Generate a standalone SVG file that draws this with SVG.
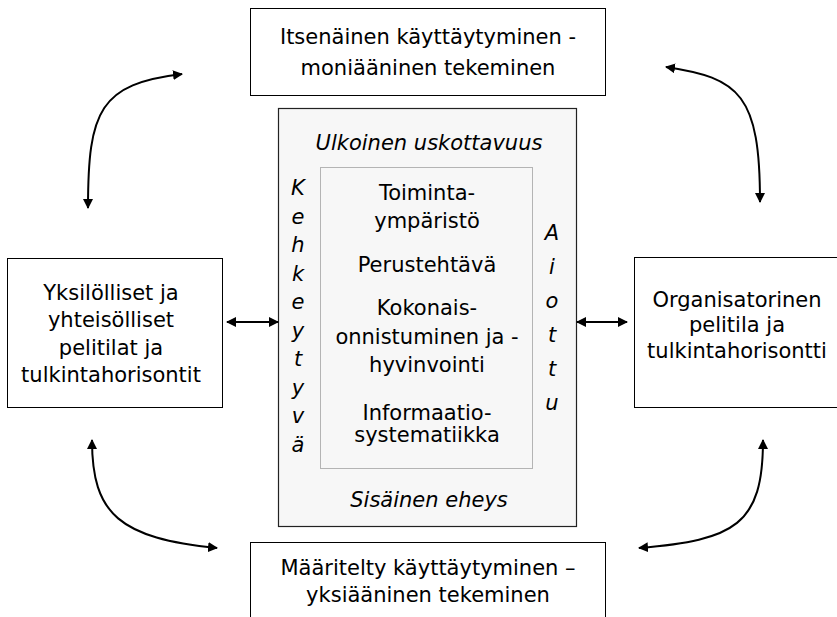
<svg xmlns="http://www.w3.org/2000/svg" width="837" height="617" viewBox="0 0 837 617">
  <defs>
    <marker id="arr" viewBox="0 0 10 10" refX="9" refY="5" markerWidth="5" markerHeight="5" orient="auto-start-reverse" markerUnits="strokeWidth">
      <path d="M0,0 L10,5 L0,10 z" fill="#000"/>
    </marker>
    <style>
      .box { fill: #fff; stroke: #000; stroke-width: 1; }
      .outer { fill: #f7f7f7; stroke: #222; stroke-width: 1.2; }
      .inner { fill: #f7f7f7; stroke: #b4b4b4; stroke-width: 1; }
      .t { font-family: "DejaVu Sans", Verdana, sans-serif; font-size: 21px; fill: #000; text-anchor: middle; }
      .i { font-family: "DejaVu Sans", Verdana, sans-serif; font-size: 21px; font-style: italic; fill: #000; text-anchor: middle; }
      .c { fill: none; stroke: #000; stroke-width: 2; marker-start: url(#arr); marker-end: url(#arr); }
    </style>
  </defs>

  <rect width="837" height="617" fill="#fff"/>

  <!-- top: autonomous behaviour -->
  <g id="top">
    <rect class="box" x="250.5" y="8.5" width="355" height="87"/>
    <text class="t" x="428" y="44">Itsenäinen käyttäytyminen -</text>
    <text class="t" x="428" y="75">moniääninen tekeminen</text>
  </g>

  <!-- centre frame -->
  <g id="center">
    <rect class="outer" x="278.5" y="108.5" width="298" height="418"/>
    <rect class="inner" x="320.5" y="167.5" width="212" height="301"/>
    <text class="i" x="429" y="150">Ulkoinen uskottavuus</text>
    <text class="i" x="429" y="507">Sisäinen eheys</text>
    <g class="i">
      <text x="298" y="195">K</text>
      <text x="298" y="223.5">e</text>
      <text x="298" y="252">h</text>
      <text x="298" y="280.5">k</text>
      <text x="298" y="309">e</text>
      <text x="298" y="337.5">y</text>
      <text x="298" y="366">t</text>
      <text x="298" y="394.5">y</text>
      <text x="298" y="423">v</text>
      <text x="298" y="451.5">ä</text>
    </g>
    <g class="i">
      <text x="552" y="240">A</text>
      <text x="552" y="274">i</text>
      <text x="552" y="308">o</text>
      <text x="552" y="342">t</text>
      <text x="552" y="376">t</text>
      <text x="552" y="410">u</text>
    </g>
    <text class="t" x="427" y="200">Toiminta-</text>
    <text class="t" x="427" y="228">ympäristö</text>
    <text class="t" x="427" y="272">Perustehtävä</text>
    <text class="t" x="427" y="315">Kokonais-</text>
    <text class="t" x="427" y="344">onnistuminen ja -</text>
    <text class="t" x="427" y="372">hyvinvointi</text>
    <text class="t" x="427" y="420">Informaatio-</text>
    <text class="t" x="427" y="442">systematiikka</text>
  </g>

  <!-- left: individual and communal -->
  <g id="left">
    <rect class="box" x="7.5" y="258.5" width="215" height="149"/>
    <text class="t" x="111" y="300">Yksilölliset ja</text>
    <text class="t" x="111" y="327">yhteisölliset</text>
    <text class="t" x="111" y="355">pelitilat ja</text>
    <text class="t" x="111" y="382">tulkintahorisontit</text>
  </g>

  <!-- right: organisational -->
  <g id="right">
    <rect class="box" x="634.5" y="257.5" width="210" height="150"/>
    <text class="t" x="737" y="307">Organisatorinen</text>
    <text class="t" x="737" y="332">pelitila ja</text>
    <text class="t" x="737" y="358">tulkintahorisontti</text>
  </g>

  <!-- bottom: defined behaviour -->
  <g id="bottom">
    <rect class="box" x="250.5" y="542.5" width="355" height="90"/>
    <text class="t" x="428" y="575">Määritelty käyttäytyminen –</text>
    <text class="t" x="428" y="602">yksiääninen tekeminen</text>
  </g>

  <!-- connectors -->
  <g id="connectors">
    <path class="c" d="M88,208 C88,110 100,84 182,74"/>
    <path class="c" d="M666,67 C740,78 760,95 760,202"/>
    <path class="c" d="M92,440 C92,515 120,538 217,548"/>
    <path class="c" d="M639,548 C735,540 763,525 763,440"/>
    <path class="c" d="M227,322 L278,322"/>
    <path class="c" d="M577,322 L627,322"/>
  </g>
</svg>
